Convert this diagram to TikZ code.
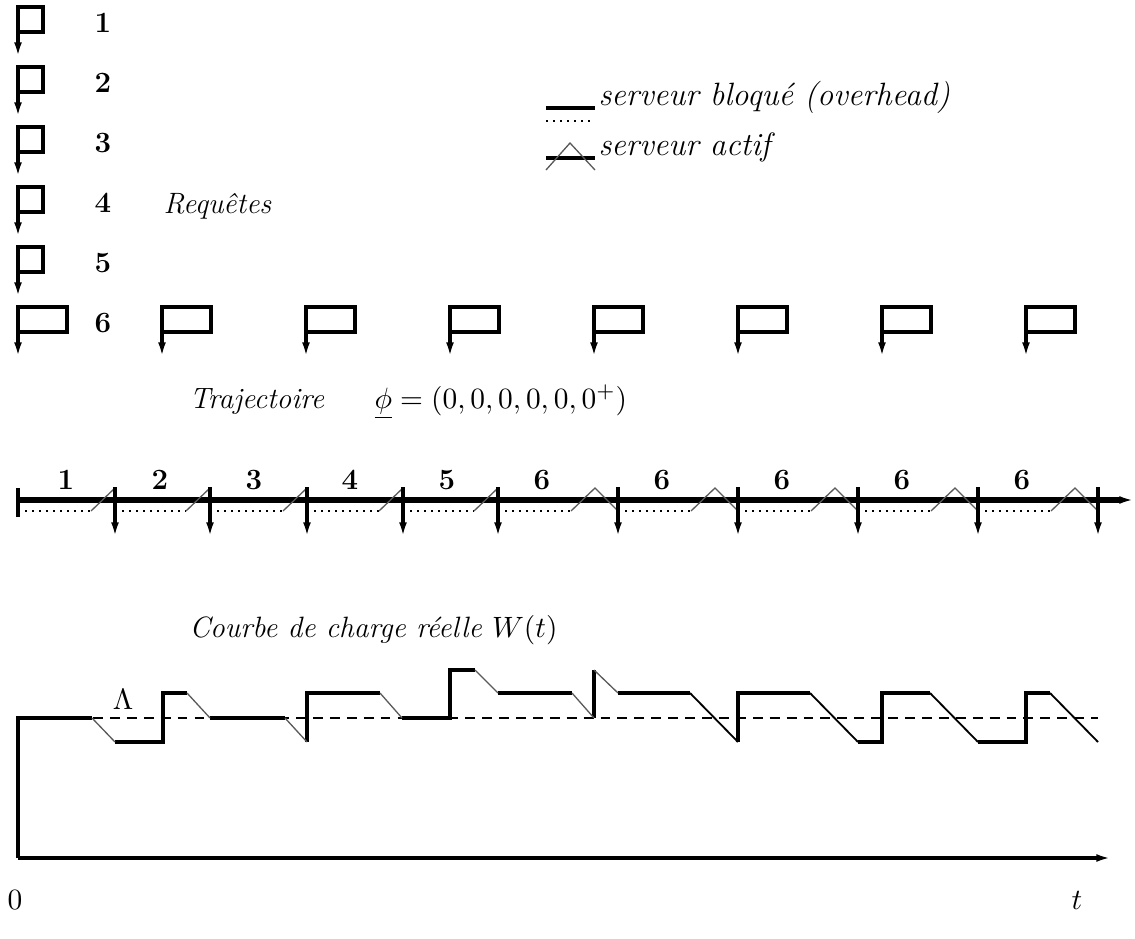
\documentclass[tikz,border=0pt]{standalone}
\usepackage{fix-cm}
\usepackage{tikz}
\usetikzlibrary{arrows.meta}
\tikzset{>={Latex[length=5.6pt,width=3pt]}}

\begin{document}
\begin{tikzpicture}[x=0.0135cm, y=-0.0135cm, %%
  every node/.style={font=\fontsize{11.3pt}{13pt}\selectfont}]
  \tikzset{
    fort/.style={line width=1.6pt},
    actif/.style={line width=0.5pt, black!65},
    bloque/.style={line width=0.8pt, dash pattern=on 0.8pt off 1.9pt},
    texte/.style={anchor=base west, inner sep=0pt},
    legende/.style={texte, font=\fontsize{12.4pt}{14pt}\selectfont\itshape},
  }
  \useasboundingbox (0,0) rectangle (1135,939);

  %% requetes 1 a 5
  \foreach \n/\y in {1/7, 2/67, 3/127, 4/187, 5/247}{
    \draw[->, fort] (18,\y+25) -- (43,\y+25) -- (43,\y) -- (18,\y) -- (18,\y+50);
    \node (req\n) at (103,\y+16) {\textbf{\n}};
  }
  %% requetes 6
  \foreach \x in {18,162,...,1026}{
    \draw[->, fort] (\x,332) -- (\x+49,332) -- (\x+49,307) -- (\x,307) -- (\x,357);
  }
  \node (req6) at (103,323) {\textbf{6}};
  \node[texte] (requetes) at (163,214) {\itshape Requ\^etes};

  %% legende
  \draw[line width=1.6pt] (546,108) -- (595,108);
  \draw[bloque] (546,121) -- (595,121);
  \node[legende] (legbloque) at (598,106) {serveur bloqu\'e (overhead)};
  \draw[line width=1.6pt] (546,158) -- (595,158);
  \draw[actif] (546,170) -- (570,143) -- (595,170);
  \node[legende] (legactif) at (598,156) {serveur actif};

  %% trajectoire
  \node[texte] (traj) at (189,408) {\itshape Trajectoire};
  \node[texte] (phi) at (374,408) {$\underline{\phi} = (0, 0, 0, 0, 0, 0^{+})$};
  \draw[->, line width=2pt] (18,500) -- (1134,500);
  \draw[line width=1.6pt] (18,488) -- (18,517);
  \foreach \p/\a/\l/\n in {18/115/66/1, 115/210/160/2, 210/307/254/3, 307/403/350/4, %%
    403/498/447/5, 498/618/542/6, 618/738/662/6, 738/858/782/6, 858/978/902/6, 978/1098/1022/6}{
    \node (seg\a) at (\l,480) {\textbf{\n}};
    \ifnum\n<6
      \draw[bloque] (\p+7,511) -- (\a-24,511);
      \draw[actif] (\a-24,511) -- (\a,488);
    \else
      \draw[bloque] (\p+7,511) -- (\a-47,511);
      \draw[actif] (\a-47,511) -- (\a-23,488) -- (\a,511);
    \fi
    \draw[->, line width=1.7pt] (\a,487) -- (\a,537);
  }

  %% courbe de charge
  \node[texte] (courbe) at (189,638) {\itshape Courbe de charge r\'eelle $W(t)$};
  \draw[->, line width=1.2pt] (18,858) -- (1111,858);
  \draw[line width=1.1pt, dash pattern=on 3.8pt off 2.7pt] (93,718) -- (1098,718);
  \node (lambda) at (123,699) {$\Lambda$};
  \draw[line width=1.3pt] (18,858) -- (18,718) -- (92,718) %%
    (115,742) -- (163,742) -- (163,693) -- (187,693) %%
    (210,718) -- (285,718) %%
    (307,742) -- (307,693) -- (380,693) %%
    (402,718) -- (450,718) -- (450,670) -- (475,670) %%
    (498,693) -- (572,693) %%
    (594,718) -- (594,670) %%
    (618,693) -- (690,693) %%
    (738,742) -- (738,693) -- (810,693) %%
    (858,742) -- (882,742) -- (882,693) -- (930,693) %%
    (978,742) -- (1026,742) -- (1026,693) -- (1050,693);
  \draw[actif] (92,718) -- (115,742) (187,693) -- (210,718) (285,718) -- (307,742) %%
    (380,693) -- (402,718) (475,670) -- (498,693) (572,693) -- (594,718) (594,670) -- (618,693);
  \draw[line width=0.7pt] (690,693) -- (738,742) (810,693) -- (858,742) %%
    (930,693) -- (978,742) (1050,693) -- (1098,742);
  \node (orig) at (15,900) {$0$};
  \node (tlbl) at (1077,900) {$t$};
\end{tikzpicture}
\end{document}
